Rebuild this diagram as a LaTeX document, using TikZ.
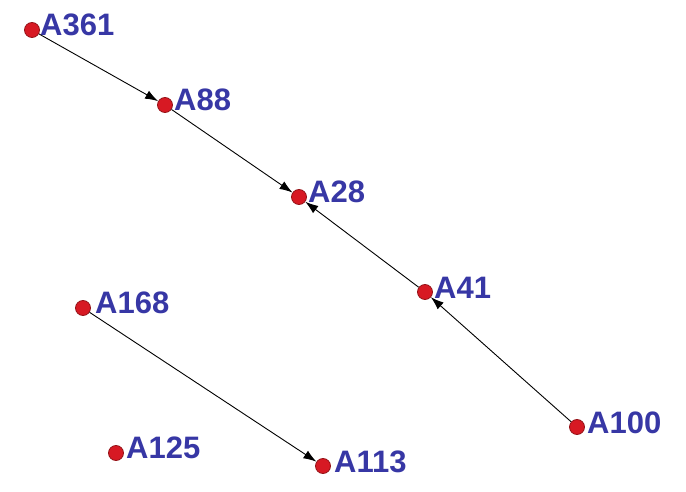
\documentclass[tikz,border=0pt]{standalone}
\usepackage{fontspec}
\setmainfont{Liberation Sans}
\usetikzlibrary{arrows.meta}
\definecolor{nodered}{RGB}{215,25,35}
\definecolor{nodeedge}{RGB}{150,20,25}
\definecolor{labelblue}{RGB}{55,55,165}
\tikzset{
  vtx/.style={circle,fill=nodered,draw=nodeedge,line width=0.8pt,minimum size=15pt,inner sep=0pt},
  vlabel/.style={anchor=base west,inner sep=0pt,text=labelblue,font=\fontsize{31}{32}\selectfont\bfseries},
  edge/.style={draw=black,line width=0.9pt,-{Latex[length=13pt,width=9pt]},shorten >=0pt}
}
\begin{document}
\begin{tikzpicture}[x=1pt,y=-1pt]
\useasboundingbox[fill=white] (0,0) rectangle (686,492);
\node[vtx] (A361) at (32,30) {};
\node[vtx] (A88) at (165,105) {};
\node[vtx] (A28) at (299,197) {};
\node[vtx] (A41) at (425,292) {};
\node[vtx] (A100) at (577,427) {};
\node[vtx] (A168) at (83,308) {};
\node[vtx] (A125) at (116,453) {};
\node[vtx] (A113) at (323,466) {};
\node[vlabel] (L361) at (40,36) {A361};
\node[vlabel] (L88) at (174,111) {A88};
\node[vlabel] (L28) at (308,203) {A28};
\node[vlabel] (L41) at (434,298) {A41};
\node[vlabel] (L100) at (587,433) {A100};
\node[vlabel] (L168) at (95,313) {A168};
\node[vlabel] (L125) at (126,458) {A125};
\node[vlabel] (L113) at (334,472) {A113};
\draw[edge] (A361) -- (A88);
\draw[edge] (A88) -- (A28);
\draw[edge] (A41) -- (A28);
\draw[edge] (A100) -- (A41);
\draw[edge] (A168) -- (A113);
\end{tikzpicture}
\end{document}
